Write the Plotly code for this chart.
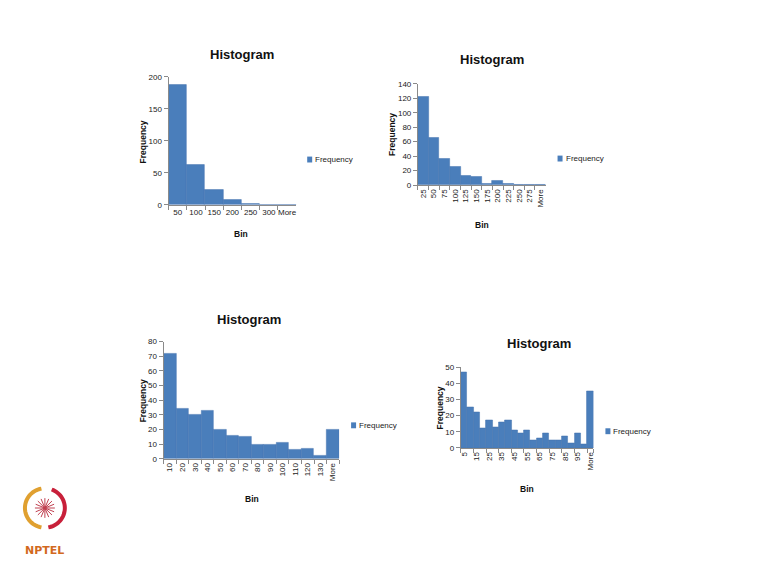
import plotly.graph_objects as go
import math

# ---------------- data ----------------
bins1 = ["50", "100", "150", "200", "250", "300", "More"]
freq1 = [188, 62, 24, 7, 2, 0, 0]

bins2 = ["25", "50", "75", "100", "125", "150", "175", "200", "225", "250", "275", "More"]
freq2 = [122, 66, 36, 26, 13, 11, 2, 6, 2, 0, 0, 0]

bins3 = ["10", "20", "30", "40", "50", "60", "70", "80", "90", "100", "110", "120", "130", "More"]
freq3 = [72, 34, 30, 33, 20, 16, 15, 10, 10, 11, 6, 7, 2, 20]

bins4 = ["5", "10", "15", "20", "25", "30", "35", "40", "45", "50", "55", "60", "65", "70",
         "75", "80", "85", "90", "95", "100", "More"]
freq4 = [47, 25, 22, 12, 17, 13, 16, 17, 11, 9, 11, 5, 6, 9, 5, 5, 7, 3, 9, 2, 35]
ticks4 = ["5", "15", "25", "35", "45", "55", "65", "75", "85", "95", "More"]

title_text = "Histogram"
series_name = "Frequency"
x_title = "Bin"
y_title = "Frequency"

# ---------------- layout helpers ----------------
W, H = 770, 577
BAR = "#4A7EBB"
FONT = "Liberation Sans Narrow, Liberation Sans, Arial, sans-serif"


def px(x):
    return x / W


def py(y):
    return 1 - y / H


charts = [
    dict(b=bins1, f=freq1, xr=(168, 296), yr=(204, 74), ymax=200, dt=50, ang=0, tv=bins1,
         title=(242, 51), yt=(142, 140), xt=(241, 234), lg=(309, 158)),
    dict(b=bins2, f=freq2, xr=(418, 546), yr=(184, 81), ymax=140, dt=20, ang=-90, tv=bins2,
         title=(492, 56), yt=(392, 132), xt=(482, 225), lg=(560, 157)),
    dict(b=bins3, f=freq3, xr=(163, 339), yr=(462, 343), ymax=80, dt=10, ang=-90, tv=bins3,
         title=(249, 320), yt=(142, 403), xt=(252, 503), lg=(353, 428)),
    dict(b=bins4, f=freq4, xr=(461, 594), yr=(451, 369), ymax=50, dt=10, ang=-90, tv=ticks4,
         title=(539, 345), yt=(440, 410), xt=(527, 493), lg=(608, 434)),
]

fig = go.Figure()
annotations = []
shapes = []
layout = dict(
    width=W, height=H,
    margin=dict(l=0, r=0, t=0, b=0),
    paper_bgcolor="white", plot_bgcolor="rgba(0,0,0,0)",
    bargap=0, showlegend=False,
    font=dict(family=FONT, size=9, color="#222222"),
)

for i, c in enumerate(charts, start=1):
    sfx = "" if i == 1 else str(i)
    fig.add_trace(go.Bar(
        x=c["b"], y=c["f"], name=series_name,
        marker=dict(color=BAR, line=dict(color="#4473AE", width=0.5)),
        xaxis="x" + sfx, yaxis="y" + sfx,
    ))
    xa = dict(
        domain=[px(c["xr"][0]), px(c["xr"][1])], anchor="y" + sfx,
        type="category", showline=True, linecolor="#8a8a8a", linewidth=1,
        ticks="outside", ticklen=4, tickcolor="#8a8a8a", tickson="boundaries",
        tickangle=c["ang"], showgrid=False, zeroline=False,
        tickmode="array", tickvals=c["tv"], ticktext=c["tv"],
        tickfont=dict(family=FONT, size=8, color="#222222"),
    )
    ya = dict(
        domain=[py(c["yr"][0]), py(c["yr"][1])], anchor="x" + sfx,
        range=[0, c["ymax"]], dtick=c["dt"], showline=True, linecolor="#8a8a8a",
        linewidth=1, ticks="outside", ticklen=4, tickcolor="#8a8a8a",
        showgrid=False, zeroline=False,
        tickfont=dict(family=FONT, size=8, color="#222222"),
    )
    layout["xaxis" + sfx] = xa
    layout["yaxis" + sfx] = ya

    # legend (small square + label)
    lx, ly = c["lg"]
    shapes.append(dict(type="rect", xref="paper", yref="paper",
                       x0=px(lx - 2), x1=px(lx + 3), y0=py(ly + 3), y1=py(ly - 3),
                       fillcolor=BAR, line=dict(width=0)))
    annotations.append(dict(
        text=series_name, x=px(lx + 4), y=py(ly), xref="paper", yref="paper",
        showarrow=False, xanchor="left", yanchor="middle",
        font=dict(family=FONT, size=8, color="#222222"),
    ))
    annotations.append(dict(
        text=f"<b>{title_text}</b>", x=px(c["title"][0]), y=py(c["title"][1]),
        xref="paper", yref="paper", showarrow=False, xanchor="center", yanchor="middle",
        font=dict(family=FONT, size=13, color="#111111"),
    ))
    annotations.append(dict(
        text=f"<b>{y_title}</b>", x=px(c["yt"][0]), y=py(c["yt"][1]),
        xref="paper", yref="paper", showarrow=False, textangle=-90,
        xanchor="center", yanchor="middle",
        font=dict(family=FONT, size=8.5, color="#111111"),
    ))
    annotations.append(dict(
        text=f"<b>{x_title}</b>", x=px(c["xt"][0]), y=py(c["xt"][1]),
        xref="paper", yref="paper", showarrow=False,
        xanchor="center", yanchor="middle",
        font=dict(family=FONT, size=8.5, color="#111111"),
    ))

# ---------------- NPTEL logo (decorative) ----------------
annotations.append(dict(
    text="<b>NPTEL</b>", x=px(44), y=py(555), xref="paper", yref="paper",
    showarrow=False, xanchor="center", yanchor="middle",
    font=dict(family="DejaVu Sans, sans-serif", size=11, color="#D2691E"),
))

cx, cy, r = 44, 512, 20


def arc_path(a0, a1, rad, n=30):
    pts = []
    for k in range(n + 1):
        a = math.radians(a0 + (a1 - a0) * k / n)
        pts.append((px(cx + rad * math.cos(a)), py(cy - rad * math.sin(a))))
    return "M " + " L ".join(f"{x:.5f},{y:.5f}" for x, y in pts)


shapes.append(dict(type="path", path=arc_path(100, 260, r), xref="paper", yref="paper",
                   line=dict(color="#E0A030", width=4)))
shapes.append(dict(type="path", path=arc_path(-80, 70, r), xref="paper", yref="paper",
                   line=dict(color="#C8203A", width=4)))
for k in range(8):
    a = math.radians(k * 22.5)
    x0, y0 = cx - 10 * math.cos(a), cy - 10 * math.sin(a)
    x1, y1 = cx + 10 * math.cos(a), cy + 10 * math.sin(a)
    shapes.append(dict(type="line", x0=px(x0), y0=py(y0), x1=px(x1), y1=py(y1),
                       xref="paper", yref="paper", line=dict(color="#C04050", width=1)))

layout["annotations"] = annotations
layout["shapes"] = shapes
fig.update_layout(**layout)

fig.write_html("out.html", config={"displayModeBar": False},
               post_script="document.body.style.margin='0';")
